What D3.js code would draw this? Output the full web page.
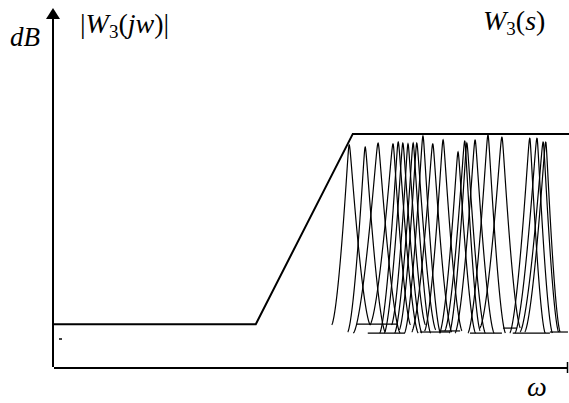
<!DOCTYPE html>
<html>
<head>
<meta charset="utf-8">
<script src="https://cdn.jsdelivr.net/npm/d3@7"></script>
<style>
  body { margin: 0; background: #fff; }
  svg { display: block; }
</style>
</head>
<body>
<div id="chart"></div>
<script>
// Weight function |W3(jw)| : flat low, ramp, flat high (omega, dB)
const weightOmega = [0, 3.93, 5.81, 10];
const weightDb = [1.20, 1.20, 6.53, 6.53];

// Resonance peaks of W3(s)
const peakCenters = [5.74, 6.05, 6.30, 6.59, 6.69, 6.78, 6.88, 6.98, 7.05, 7.17, 7.36,
                     7.56, 7.85, 7.98, 8.02, 8.18, 8.43, 8.70, 9.24, 9.38, 9.50, 9.55];
const peakTops = [6.22, 6.16, 6.27, 6.25, 6.30, 6.27, 6.25, 6.27, 6.27, 6.47, 6.25,
                  6.36, 6.02, 6.33, 6.27, 6.36, 6.50, 6.44, 6.41, 6.41, 6.30, 6.30];
const peakBases = [1.18, 0.98, 0.95, 1.18, 0.95, 0.95, 1.18, 0.95, 1.04, 0.95, 0.98,
                   1.01, 0.95, 1.01, 0.95, 0.95, 0.95, 1.09, 0.95, 0.95, 0.98, 0.98];
const peakLeft = [0.34, 0.34, 0.48, 0.45, 0.36, 0.36, 0.32, 0.36, 0.34, 0.36, 0.41,
                  0.36, 0.36, 0.39, 0.34, 0.39, 0.39, 0.43, 0.39, 0.43, 0.45, 0.41];
const peakRight = [0.41, 0.39, 0.43, 0.34, 0.39, 0.37, 0.34, 0.34, 0.37, 0.34, 0.37,
                   0.37, 0.34, 0.30, 0.36, 0.37, 0.34, 0.36, 0.30, 0.30, 0.30, 0.28];

// flat bottom tails under the peaks: [from, to, dB]
const tails = [
  [5.89, 6.67, 1.20], [6.10, 6.82, 0.95], [7.11, 7.69, 0.98], [7.50, 7.89, 1.01],
  [8.08, 8.70, 0.95], [8.72, 8.99, 1.09], [8.91, 9.63, 0.95], [9.63, 9.98, 0.98]
];

const width = 569, height = 403;
const serif = "'Liberation Serif', 'Times New Roman', Tinos, 'DejaVu Serif', serif";
const x = d3.scaleLinear().domain([0, 10]).range([53, 569]);
const y = d3.scaleLinear().domain([0, 10]).range([367, 10]);

const svg = d3.select("#chart").append("svg")
    .attr("width", width)
    .attr("height", height)
    .attr("font-family", serif);

// Axes
svg.append("line")
    .attr("x1", x(0)).attr("x2", x(0))
    .attr("y1", y(0)).attr("y2", 16)
    .attr("stroke", "#000").attr("stroke-width", 2);
svg.append("path")
    .attr("d", `M${x(0)},8 L${x(0) - 7},19 L${x(0) + 7},19 Z`)
    .attr("fill", "#000");
svg.append("line")
    .attr("x1", x(0) + 1).attr("x2", width - 1)
    .attr("y1", y(0) + 1).attr("y2", y(0) + 1)
    .attr("stroke", "#000").attr("stroke-width", 2);
svg.append("line")
    .attr("x1", width - 1.5).attr("x2", width - 1.5)
    .attr("y1", y(0) - 5).attr("y2", y(0) + 6)
    .attr("stroke", "#000").attr("stroke-width", 1.5);
svg.append("line")
    .attr("x1", 59).attr("x2", 62)
    .attr("y1", 339).attr("y2", 339)
    .attr("stroke", "#000").attr("stroke-width", 1.5);

const line = d3.line().x(d => x(d[0])).y(d => y(d[1]));

// Peaks: narrow, slightly rounded tip, flaring out at the foot
const peaks = svg.append("g")
    .attr("fill", "none")
    .attr("stroke", "#000")
    .attr("stroke-width", 1.2);

const eps = 0.04;
const shape = t => {
  const ts = Math.sqrt(t * t + eps * eps) - eps;
  const t1 = Math.sqrt(1 + eps * eps) - eps;
  return Math.pow(Math.max(0, 1 - ts / t1), 1.55);
};

peakCenters.forEach((c, i) => {
  const top = peakTops[i], base = peakBases[i];
  const pts = d3.range(c - peakLeft[i], c + peakRight[i] + 0.001, 0.004).map(w => {
    const hw = w < c ? peakLeft[i] : peakRight[i];
    const t = Math.min(1, Math.abs(w - c) / hw);
    return [w, base + (top - base) * shape(t)];
  });
  peaks.append("path").attr("d", line(pts));
});

peaks.selectAll("line.tail")
    .data(tails)
    .enter()
    .append("line")
    .attr("class", "tail")
    .attr("x1", d => x(d[0]))
    .attr("x2", d => x(d[1]))
    .attr("y1", d => y(d[2]))
    .attr("y2", d => y(d[2]));

// Weight curve
svg.append("path")
    .attr("d", line(weightOmega.map((w, i) => [w, weightDb[i]])))
    .attr("fill", "none")
    .attr("stroke", "#000")
    .attr("stroke-width", 2);

// Labels
svg.append("text")
    .attr("x", 10).attr("y", 46)
    .attr("font-size", 27)
    .attr("font-style", "italic")
    .text("dB");

const lab1 = svg.append("text").attr("x", 80).attr("y", 33).attr("font-size", 28);
lab1.append("tspan").text("|");
lab1.append("tspan").attr("font-style", "italic").text("W");
lab1.append("tspan").attr("font-size", 19).attr("dy", 5).text("3");
lab1.append("tspan").attr("dy", -5).text("(");
lab1.append("tspan").attr("font-style", "italic").text("jw");
lab1.append("tspan").text(")|");

const lab2 = svg.append("text").attr("x", 483).attr("y", 30).attr("font-size", 28);
lab2.append("tspan").attr("font-style", "italic").text("W");
lab2.append("tspan").attr("font-size", 19).attr("dy", 5).text("3");
lab2.append("tspan").attr("dy", -5).text("(");
lab2.append("tspan").attr("font-style", "italic").text("s");
lab2.append("tspan").text(")");

svg.append("text")
    .attr("x", 527).attr("y", 396)
    .attr("font-size", 28)
    .attr("font-style", "italic")
    .text("ω");
</script>
</body>
</html>
